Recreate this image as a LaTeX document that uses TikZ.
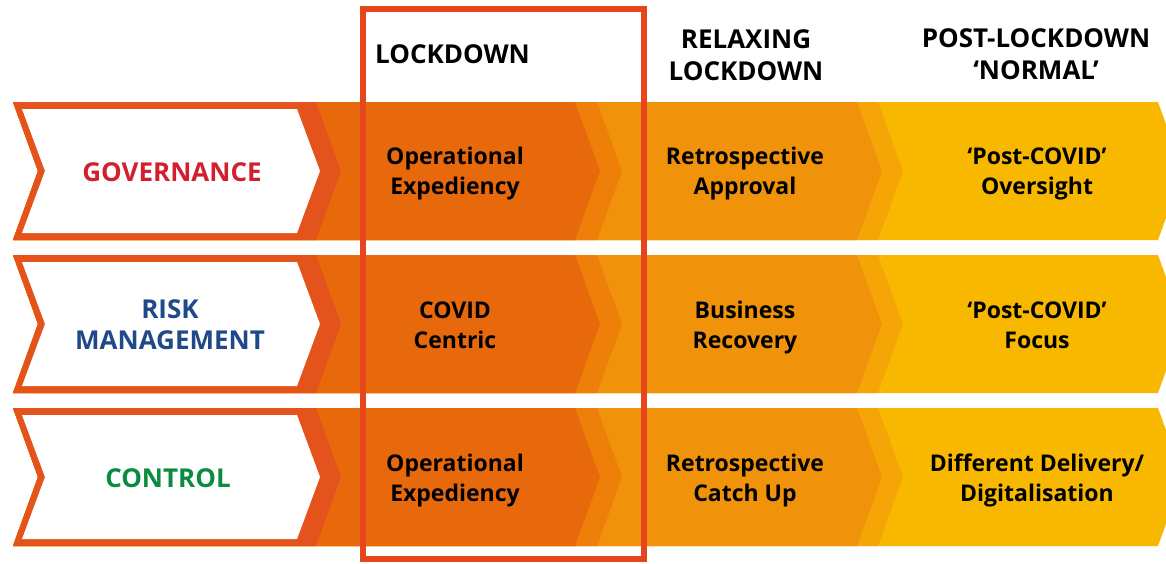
\documentclass[tikz,border=0pt]{standalone}
\usepackage{fontspec}
\setmainfont{Open Sans}

\definecolor{frameorange}{HTML}{E4531B}
\definecolor{lockorange}{HTML}{E8690B}
\definecolor{lockstripe}{HTML}{EE800A}
\definecolor{relaxorange}{HTML}{F0920A}
\definecolor{relaxstripe}{HTML}{F5A606}
\definecolor{postyellow}{HTML}{F9B800}
\definecolor{lockred}{HTML}{E6461C}
\definecolor{govred}{HTML}{D2202F}
\definecolor{riskblue}{HTML}{1F4A8A}
\definecolor{ctrlgreen}{HTML}{0B8B40}

% one chevron: left x, right x, top y, colour
\newcommand{\bandchev}[4]{%
	\fill[#4] (#1,#3) -- (#2,#3) -- ++(25,69) -- ++(-25,69) -- (#1,#3+138) -- ++(25,-69) -- cycle;}

% one whole row of chevrons, from the back to the front
\newcommand{\bandrow}[1]{%
	\bandchev{13}{1158}{#1}{postyellow}
	\bandchev{13}{878}{#1}{relaxstripe}
	\bandchev{13}{857}{#1}{relaxorange}
	\bandchev{13}{597}{#1}{lockstripe}
	\bandchev{13}{575}{#1}{lockorange}
	\bandchev{13}{316}{#1}{frameorange}
	\fill[white] (22,#1+7) -- (297,#1+7) -- ++(23,62) -- ++(-23,62) -- (22,#1+131) -- ++(23,-62) -- cycle;}

\tikzset{
	header/.style={font=\fontsize{26}{32}\selectfont\bfseries, align=center, inner sep=0pt},
	label/.style={font=\fontsize{26}{31}\selectfont\bfseries, align=center, inner sep=0pt},
	cell/.style={font=\fontsize{23}{30}\selectfont\bfseries, align=center, inner sep=0pt, anchor=base},
	lockframe/.style={draw=lockred, line width=6pt},
}

\begin{document}
\begin{tikzpicture}[x=1pt,y=-1pt]
		\useasboundingbox (0,0) rectangle (1166,563);
		\clip (0,0) rectangle (1166,563);

		\coordinate (govrow) at (0,172);
		\coordinate (riskrow) at (0,325);
		\coordinate (ctrlrow) at (0,478);
		% last baselines of the cell texts
		\coordinate (govline) at (0,194);
		\coordinate (riskline) at (0,348);
		\coordinate (ctrlline) at (0,501);

		\bandrow{102}
		\bandrow{255}
		\bandrow{408}

		\draw[lockframe] (363,9) rectangle (644,559);

		\node [header, anchor=base west] (hlock) at (375,63) {LOCKDOWN};
\node [header] (hrelax) at (746,55) {RELAXING\\LOCKDOWN};
\node [header] (hpost) at (1036,54) {POST-LOCKDOWN\\‘NORMAL’};

\node [label, text=govred] (gov) at (govrow -| 172,0) {GOVERNANCE};
\node [label, text=riskblue] (risk) at (riskrow -| 170,0) {RISK\\MANAGEMENT};
\node [label, text=ctrlgreen] (ctrl) at (ctrlrow -| 168,0) {CONTROL};

\node [cell] (govlock) at (govline -| 455,0) {Operational\\Expediency};
\node [cell] (govrelax) at (govline -| 745,0) {Retrospective\\Approval};
\node [cell] (govpost) at (govline -| 1037,0) {‘Post-COVID’\\Oversight};

\node [cell] (risklock) at (riskline -| 455,0) {COVID\\Centric};
\node [cell] (riskrelax) at (riskline -| 745,0) {Business\\Recovery};
\node [cell] (riskpost) at (riskline -| 1037,0) {‘Post-COVID’\\Focus};

\node [cell] (ctrllock) at (ctrlline -| 455,0) {Operational\\Expediency};
\node [cell] (ctrlrelax) at (ctrlline -| 745,0) {Retrospective\\Catch Up};
\node [cell] (ctrlpost) at (ctrlline -| 1037,0) {Different Delivery/\\Digitalisation};

		\end{tikzpicture}
\end{document}
